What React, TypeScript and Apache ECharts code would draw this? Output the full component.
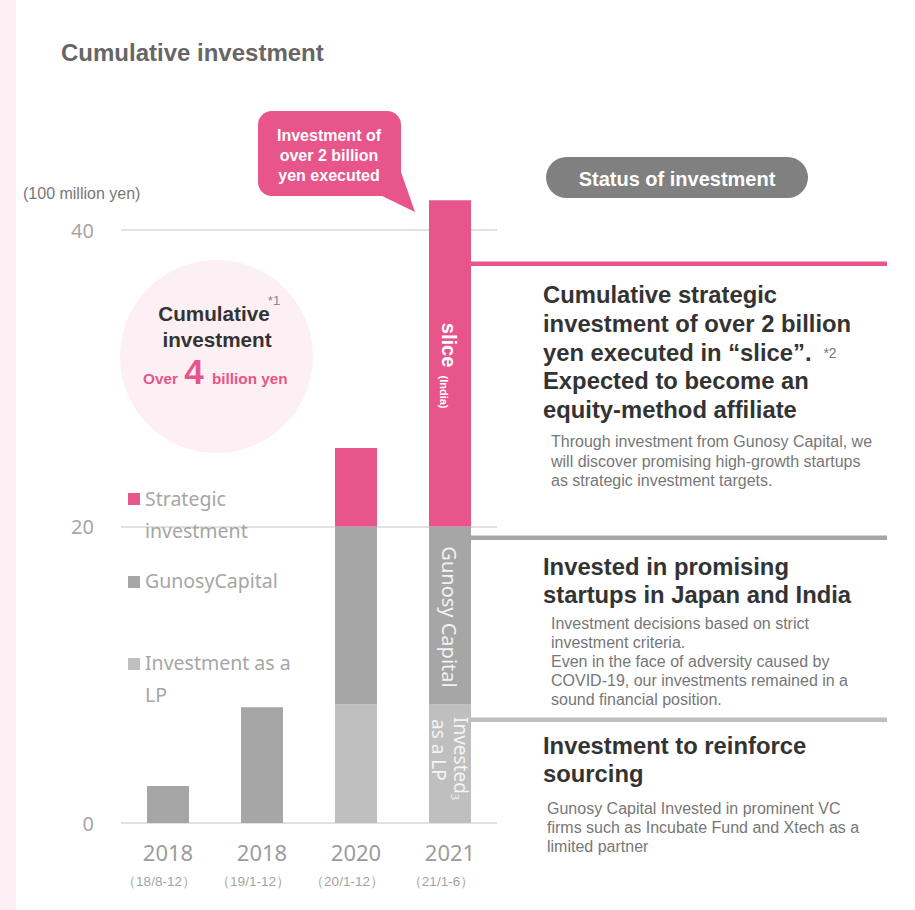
import React, { useEffect, useRef } from "react";
import * as echarts from "echarts";

const categories = ["2018", "2018", "2020", "2021"];
const periods = ["（18/8-12）", "（19/1-12）", "（20/1-12）", "（21/1-6）"];
const lpValues = [0, 0, 8.0, 8.0];
const gunosyValues = [2.5, 7.8, 12.0, 12.0];
const strategicValues = [0, 0, 5.3, 22.0];
const yTicks = { min: 0, max: 40, interval: 20 };

const PINK = "#e8558a";
const GRAY = "#a6a6a6";
const LIGHT = "#bfbfbf";
const SANS = "'Liberation Sans', Arial, sans-serif";
const THIN = "'Noto Sans', sans-serif";

function txt(text: string, x: number, y: number, o: any = {}) {
  return {
    type: "text",
    x,
    y,
    rotation: o.rotation || 0,
    z: 100,
    style: {
      text,
      fill: o.fill || "#333",
      fontSize: o.fontSize || 14,
      fontWeight: o.fontWeight || "normal",
      fontFamily: o.fontFamily || SANS,
      textAlign: o.align || "left",
      textVerticalAlign: o.vAlign || "middle",
      lineHeight: o.lineHeight,
    },
  };
}

export default function App() {
  const ref = useRef<HTMLDivElement>(null);
  useEffect(() => {
    const chart = echarts.init(ref.current!, undefined, { renderer: "svg" });
    const graphic: any[] = [
      { type: "rect", z: 0, shape: { x: 0, y: 0, width: 16, height: 910 }, style: { fill: "#fdf0f4" } },
      txt("Cumulative investment", 61, 52, { fontSize: 24, fontWeight: "bold", fill: "#666" }),
      txt("(100 million yen)", 23, 193, { fontSize: 16, fill: "#777" }),
      // callout
      { type: "rect", z: 90, shape: { x: 258, y: 111, width: 143, height: 85, r: 14 }, style: { fill: PINK } },
      { type: "polygon", z: 90, shape: { points: [[378, 194], [415, 212], [401, 172]] }, style: { fill: PINK } },
      txt("Investment of\nover 2 billion\nyen executed", 329, 155, { fontSize: 16, fontWeight: "bold", fill: "#fff", align: "center", lineHeight: 20 }),
      // circle
      { type: "circle", z: 5, shape: { cx: 216.5, cy: 356.5, r: 96.5 }, style: { fill: "#fdf0f4" } },
      txt("Cumulative", 214, 313, { fontSize: 20.7, fontWeight: "bold", fill: "#333", align: "center" }),
      txt("investment", 217, 339, { fontSize: 20.7, fontWeight: "bold", fill: "#333", align: "center" }),
      txt("*1", 274, 300, { fontSize: 13, fill: "#888", align: "center" }),
      txt("Over", 143, 378, { fontSize: 15.3, fontWeight: "bold", fill: PINK }),
      txt("4", 194, 371, { fontSize: 35, fontWeight: "bold", fill: PINK, align: "center" }),
      txt("billion yen", 212, 378, { fontSize: 15.3, fontWeight: "bold", fill: PINK }),
      // legend
      { type: "rect", z: 50, shape: { x: 128, y: 493, width: 12, height: 12 }, style: { fill: PINK } },
      txt("Strategic\ninvestment", 145, 514, { fontSize: 19.5, fill: GRAY, fontFamily: THIN, lineHeight: 32 }),
      { type: "rect", z: 50, shape: { x: 128, y: 576, width: 12, height: 12 }, style: { fill: GRAY } },
      txt("GunosyCapital", 145, 580, { fontSize: 19.5, fill: GRAY, fontFamily: THIN }),
      { type: "rect", z: 50, shape: { x: 128, y: 658, width: 12, height: 12 }, style: { fill: LIGHT } },
      txt("Investment as a\nLP", 145, 678, { fontSize: 19.5, fill: GRAY, fontFamily: THIN, lineHeight: 32 }),
      // bar inner labels
      txt("slice", 449, 345, { fontSize: 20, fontWeight: "bold", fill: "#fff", align: "center", rotation: -Math.PI / 2 }),
      txt("(India)", 444, 392, { fontSize: 11, fontWeight: "bold", fill: "#fff", align: "center", rotation: -Math.PI / 2 }),
      txt("Gunosy Capital", 449, 617, { fontSize: 20, fill: "#f2f2f2", fontFamily: THIN, align: "center", rotation: -Math.PI / 2 }),
      txt("Invested", 461, 717, { fontSize: 19, fill: "#f4f4f4", fontFamily: THIN, align: "left", rotation: -Math.PI / 2 }),
      txt("3", 455, 797, { fontSize: 11, fill: "#f4f4f4", fontFamily: THIN, align: "center", rotation: -Math.PI / 2 }),
      txt("as a LP", 439, 719, { fontSize: 19, fill: "#f4f4f4", fontFamily: THIN, align: "left", rotation: -Math.PI / 2 }),
      // right panel
      { type: "rect", z: 50, shape: { x: 546, y: 157, width: 262, height: 41, r: 20.5 }, style: { fill: "#808080" } },
      txt("Status of investment", 677, 179, { fontSize: 20, fontWeight: "bold", fill: "#fff", align: "center" }),
      { type: "rect", z: 50, shape: { x: 471, y: 261.5, width: 416, height: 4.5 }, style: { fill: PINK } },
      { type: "rect", z: 50, shape: { x: 471, y: 535.5, width: 416, height: 4.5 }, style: { fill: GRAY } },
      { type: "rect", z: 50, shape: { x: 471, y: 717.5, width: 416, height: 4.5 }, style: { fill: LIGHT } },
      txt("Cumulative strategic\ninvestment of over 2 billion\nyen executed in “slice”.\nExpected to become an\nequity-method affiliate", 543, 352, { fontSize: 23.8, fontWeight: "bold", fill: "#333", lineHeight: 28.8 }),
      txt("*2", 830, 353, { fontSize: 14, fill: "#777", align: "center" }),
      txt("Through investment from Gunosy Capital, we\nwill discover promising high-growth startups\nas strategic investment targets.", 551, 461, { fontSize: 16, fill: "#777", lineHeight: 19.5 }),
      txt("Invested in promising\nstartups in Japan and India", 543, 580.5, { fontSize: 23.8, fontWeight: "bold", fill: "#333", lineHeight: 28.8 }),
      txt("Investment decisions based on strict\ninvestment criteria.\nEven in the face of adversity caused by\nCOVID-19, our investments remained in a\nsound financial position.", 551, 661.5, { fontSize: 16, fill: "#777", lineHeight: 19.2 }),
      txt("Investment to reinforce\nsourcing", 543, 759.5, { fontSize: 23.8, fontWeight: "bold", fill: "#333", lineHeight: 28.8 }),
      txt("Gunosy Capital Invested in prominent VC\nfirms such as Incubate Fund and Xtech as a\nlimited partner", 547, 827.5, { fontSize: 16, fill: "#777", lineHeight: 19.2 }),
    ];
    chart.setOption({
      animation: false,
      backgroundColor: "#fff",
      grid: { left: 121, right: 418, top: 230, bottom: 87 },
      xAxis: {
        type: "category",
        data: categories,
        axisLine: { show: false },
        axisTick: { show: false },
        axisLabel: {
          interval: 0,
          margin: 14,
          formatter: (v: string, i: number) => `{a|${v}}\n{b|${periods[i]}}`,
          rich: {
            a: { fontSize: 22, color: "#9c9c9c", fontFamily: THIN, lineHeight: 30 },
            b: { fontSize: 13.5, color: "#a3a3a3", fontFamily: SANS, lineHeight: 28, padding: [0, 18, 0, 0] },
          },
        },
      },
      yAxis: {
        type: "value",
        min: yTicks.min,
        max: yTicks.max,
        interval: yTicks.interval,
        axisLine: { show: false },
        axisTick: { show: false },
        splitLine: { lineStyle: { color: "#e2e2e2", width: 2 } },
        axisLabel: { color: "#a6a6a6", fontSize: 20, margin: 27, fontFamily: THIN },
      },
      series: [
        { type: "bar", name: "Investment as a LP", stack: "t", data: lpValues, barWidth: 42, clip: false, itemStyle: { color: LIGHT } },
        { type: "bar", name: "GunosyCapital", stack: "t", data: gunosyValues, barWidth: 42, clip: false, itemStyle: { color: GRAY } },
        { type: "bar", name: "Strategic investment", stack: "t", data: strategicValues, barWidth: 42, clip: false, itemStyle: { color: PINK } },
      ],
      graphic,
    });
    return () => chart.dispose();
  }, []);
  return <div ref={ref} style={{ position: "absolute", left: 0, top: 0, width: 915, height: 910 }} />;
}
